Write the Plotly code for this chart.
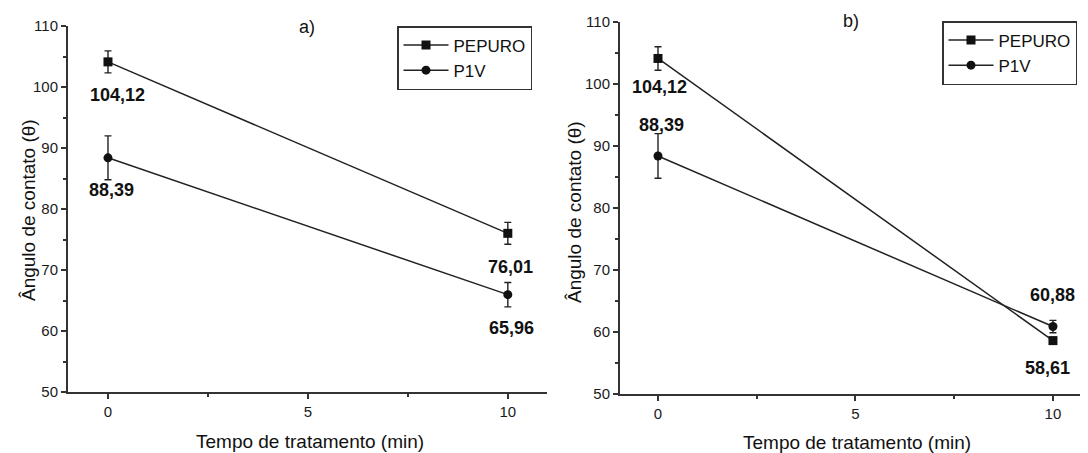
import plotly.graph_objects as go

# ---- data ----
times = [0, 10]
series_names = ["PEPURO", "P1V"]

a_pepuro = [104.12, 76.01]
a_pepuro_err = [1.8, 1.8]
a_p1v = [88.39, 65.96]
a_p1v_err = [3.6, 2.0]

b_pepuro = [104.12, 58.61]
b_pepuro_err = [1.9, 0.5]
b_p1v = [88.39, 60.88]
b_p1v_err = [3.6, 1.0]

y_ticks = [50, 60, 70, 80, 90, 100, 110]
x_ticks = [0, 5, 10]

panel_titles = ["a)", "b)"]
x_title = "Tempo de tratamento (min)"
y_title = "Ângulo de contato (θ)"

# ---- style ----
W, H = 1088, 453
OFF = 8  # page body margin
FONT = "Liberation Sans, Arial, sans-serif"
AX = "#333333"
LINE = "#222222"


def fmt(v):
    return f"{v:.2f}".replace(".", ",")


fig = go.Figure()

markers = {"PEPURO": "square", "P1V": "circle"}


def add_series(x_axis, y_axis, vals, errs, name, legend):
    fig.add_trace(go.Scatter(
        x=times, y=vals, name=name, mode="lines+markers",
        xaxis=x_axis, yaxis=y_axis, legend=legend,
        line=dict(color=LINE, width=1.5),
        marker=dict(symbol=markers[name], size=9, color="#111111"),
        error_y=dict(type="data", array=errs, visible=True,
                     color="#222222", thickness=1.4, width=3.5),
    ))


add_series("x", "y", a_pepuro, a_pepuro_err, "PEPURO", "legend")
add_series("x", "y", a_p1v, a_p1v_err, "P1V", "legend")
add_series("x2", "y2", b_pepuro, b_pepuro_err, "PEPURO", "legend2")
add_series("x2", "y2", b_p1v, b_p1v_err, "P1V", "legend2")


def px_x(p):
    return (p - OFF) / W


def px_y(p):
    return 1 - (p - OFF) / H


common_y = dict(range=[50, 110], tickvals=y_ticks, ticks="outside", ticklen=5,
                tickwidth=1.5, tickcolor=AX, showline=True, linecolor=AX,
                linewidth=2, showgrid=False, zeroline=False, automargin=False,
                tickfont=dict(family=FONT, size=15, color="#1a1a1a"),
                minor=dict(dtick=5, ticks="outside", ticklen=3, tickcolor=AX, tickwidth=1.5))
common_x = dict(tickvals=x_ticks, ticks="outside", ticklen=5, tickwidth=1.5,
                tickcolor=AX, showline=True, linecolor=AX, linewidth=2,
                showgrid=False, zeroline=False, automargin=False,
                tickfont=dict(family=FONT, size=15, color="#1a1a1a"),
                minor=dict(dtick=2.5, ticks="outside", ticklen=3, tickcolor=AX, tickwidth=1.5))

legend_style = dict(xanchor="left", yanchor="top", bordercolor=AX, borderwidth=1.5,
                    bgcolor="white", font=dict(family=FONT, size=17, color="#111"),
                    tracegroupgap=0, itemwidth=45)

fig.update_layout(
    template="none",
    width=W, height=H, autosize=False,
    margin=dict(l=0, r=0, t=0, b=0, pad=0),
    paper_bgcolor="white", plot_bgcolor="white",
    xaxis=dict(domain=[px_x(68), px_x(547)], range=[-1, 10.98], anchor="y", **common_x),
    yaxis=dict(domain=[px_y(392), px_y(26)], anchor="x", **common_y),
    xaxis2=dict(domain=[px_x(620), 1.0], range=[-0.962, 11.09], anchor="y2", **common_x),
    yaxis2=dict(domain=[px_y(394), px_y(22)], anchor="x2", **common_y),
    yaxis3=dict(overlaying="y", side="right", anchor="x", range=[50, 110],
                tickvals=[55, 60, 65, 70, 75, 80, 85, 90, 95, 100, 105],
                ticks="inside", ticklen=4, tickwidth=1.5, tickcolor=AX,
                showline=True, linecolor=AX, linewidth=2, showgrid=False,
                zeroline=False, showticklabels=False, automargin=False),
    showlegend=True,
    legend=dict(x=px_x(397), y=px_y(26), **legend_style),
    legend2=dict(x=px_x(942), y=px_y(21), **legend_style),
)

# value labels
label_font = dict(family=FONT, size=18, color="#111", weight="bold")
label_specs = [
    ("x", "y", 0, a_pepuro[0], 0.24, -5.4),
    ("x", "y", 0, a_p1v[0], 0.10, -5.3),
    ("x", "y", 10, a_pepuro[1], 0.07, -5.5),
    ("x", "y", 10, a_p1v[1], 0.10, -5.5),
    ("x2", "y2", 0, b_pepuro[0], 0.05, -4.6),
    ("x2", "y2", 0, b_p1v[0], 0.08, 5.0),
    ("x2", "y2", 10, b_pepuro[1], -0.15, -4.4),
    ("x2", "y2", 10, b_p1v[1], 0.0, 5.1),
]
for xr, yr, xv, yv, dx, dy in label_specs:
    fig.add_annotation(xref=xr, yref=yr, x=xv + dx, y=yv + dy, text=fmt(yv),
                       showarrow=False, font=label_font,
                       xanchor="center", yanchor="middle")


def paper_text(xp, yp, text, size, angle=0):
    fig.add_annotation(xref="paper", yref="paper", x=px_x(xp), y=px_y(yp),
                       text=text, showarrow=False, textangle=angle,
                       xanchor="center", yanchor="middle",
                       font=dict(family=FONT, size=size, color="#111"))


# panel titles
paper_text(307, 27, panel_titles[0], 18)
paper_text(851, 21, panel_titles[1], 18)

# axis titles
paper_text(310, 441, x_title, 19)
paper_text(857, 442, x_title, 19)
paper_text(28, 210, y_title, 19, -90)
paper_text(574, 212, y_title, 19, -90)

fig.write_html("out.html")
